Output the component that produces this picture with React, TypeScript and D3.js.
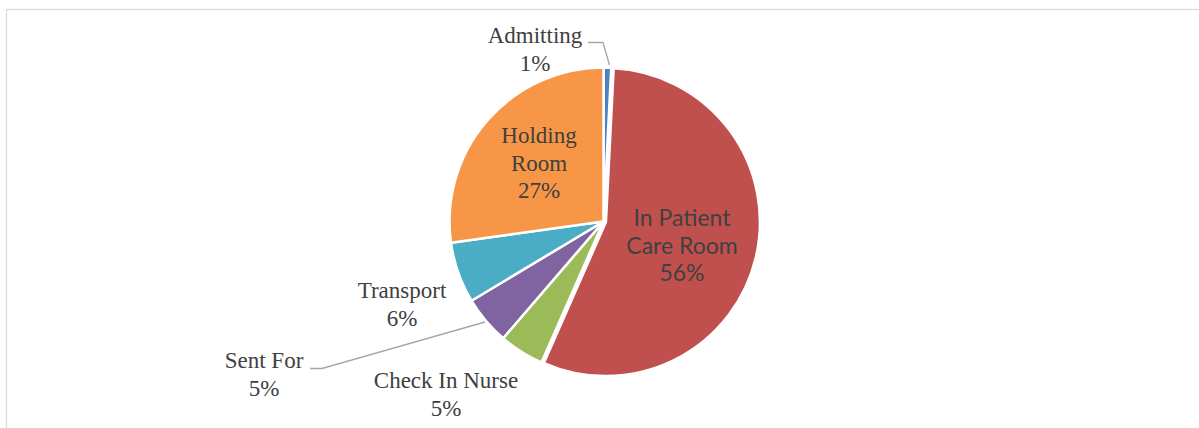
import React from "react";
import * as d3 from "d3";

const categories = ["Admitting", "In Patient Care Room", "Check In Nurse", "Sent For", "Transport", "Holding Room"];
const values = [0.8, 55.8, 4.7, 5.1, 6.4, 27.2];
const colors = ["#4F81BD", "#C0504D", "#9BBB59", "#8064A2", "#4BACC6", "#F79646"];
const labelLines = [["Admitting"], ["In Patient", "Care Room"], ["Check In Nurse"], ["Sent For"], ["Transport"], ["Holding", "Room"]];

// label layout (page coords of the first baseline)
const labelLayout = [
  { x: 535, y: 43, sans: false },
  { x: 682, y: 226, sans: true },
  { x: 446, y: 388, sans: false },
  { x: 264, y: 368, sans: false },
  { x: 402, y: 298, sans: false },
  { x: 539, y: 143, sans: false },
];
const leaderAdmitting: [number, number][] = [[588, 42.5], [603, 42.5], [609.5, 65]];
const leaderSentFor: [number, number][] = [[310, 368.5], [322, 368.5], [485, 322]];

const W = 1199;
const H = 428;
const cx = 603.5;
const cy = 221.5;
const R = 154;
const explode = [0, 2.5, 0, 0, 0, 0];

const SERIF = '"Liberation Serif", "Times New Roman", serif';
const SANS = 'Lato, "Open Sans", sans-serif';

export default function App() {
  const pie = d3.pie<number>().sort(null).value((d) => d).startAngle(0).endAngle(2 * Math.PI);
  const arcs = pie(values);
  const arc = d3.arc<d3.PieArcDatum<number>>().innerRadius(0).outerRadius(R);
  const total = d3.sum(values);
  const line = d3.line();
  const lh = 27.5;
  return (
    <svg width={W} height={H} style={{ position: "absolute", left: 0, top: 0 }}>
      <rect x={0} y={0} width={W} height={H} fill="#fff" />
      <rect x={6.5} y={9.5} width={1400} height={600} fill="none" stroke="#D9D9D9" strokeWidth={1.2} />
      <g transform={`translate(${cx},${cy})`}>
        {arcs.map((a, i) => {
          const mid = (a.startAngle + a.endAngle) / 2;
          const dx = Math.sin(mid) * explode[i];
          const dy = -Math.cos(mid) * explode[i];
          return (
            <path
              key={categories[i]}
              d={arc(a) as string}
              transform={`translate(${dx},${dy})`}
              fill={colors[i]}
              stroke="#fff"
              strokeWidth={2.5}
            />
          );
        })}
      </g>
      <path d={line(leaderAdmitting) as string} fill="none" stroke="#A6A6A6" strokeWidth={1.3} />
      <path d={line(leaderSentFor) as string} fill="none" stroke="#A6A6A6" strokeWidth={1.3} />
      {labelLayout.map((l, i) => {
        const lines = [...labelLines[i], `${Math.round((values[i] / total) * 100)}%`];
        return (
          <text key={i} x={l.x} y={l.y} textAnchor="middle" fill="#404040" fontFamily={l.sans ? SANS : SERIF} fontSize={23}>
            {lines.map((t, j) => (
              <tspan key={j} x={l.x} dy={j === 0 ? 0 : lh}>
                {t}
              </tspan>
            ))}
          </text>
        );
      })}
    </svg>
  );
}
